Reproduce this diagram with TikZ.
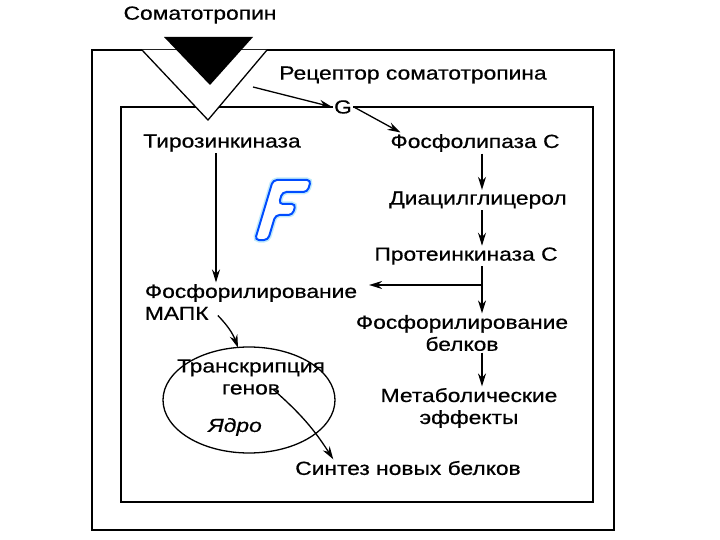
\documentclass[tikz,border=0pt]{standalone}
\usepackage{fontspec}
\setmainfont{Liberation Sans}[FakeBold=0.5]
\usetikzlibrary{arrows.meta,shapes.geometric}

\tikzset{
  lbl/.style={font=\fontsize{19}{22}\selectfont, inner sep=1pt, xscale=1.2},
  >={Stealth[length=13pt,width=8pt]},
}

\begin{document}
\begin{tikzpicture}[x=1pt,y=-1pt,line width=1.3pt]
\useasboundingbox (0,0) rectangle (720,540);

% cell and cytoplasm frames
\draw (92,50) rectangle (614,530);
\draw (121,107) rectangle (593,502);

% receptor and hormone
\fill[white] (142,50) -- (208,120) -- (267,50) -- cycle;
\draw (142,50) -- (208,120) -- (267,50);
\fill (164,37) -- (210,85) -- (253,37) -- cycle;
\coordinate (recout) at (253,87);

% logo
\draw[cyan!25,line width=5pt,rounded corners=4pt] (255,240) -- (273,180) -- (311,180) -- (307.4,192) -- (282.4,192) -- (278.8,204) -- (295.8,204) -- (292.5,215) -- (275.5,215) -- (268,240) -- cycle;
\draw[blue!70!cyan,line width=2pt,fill=white,rounded corners=4pt] (255,240) -- (273,180) -- (311,180) -- (307.4,192) -- (282.4,192) -- (278.8,204) -- (295.8,204) -- (292.5,215) -- (275.5,215) -- (268,240) -- cycle;

\node[lbl] (hormone) at (200,15) {Соматотропин};
\node[lbl] (receptor) at (413,75) {Рецептор соматотропина};
\node[lbl,fill=white] (gprot) at (343,107) {G};
\node[lbl] (tyr) at (222,143) {Тирозинкиназа};
\node[lbl] (plc) at (475,143) {Фосфолипаза С};
\node[lbl] (dag) at (478,200) {Диацилглицерол};
\node[lbl] (pkc) at (466,256) {Протеинкиназа С};
\node[lbl,align=center] (protphos) at (462,333) {Фосфорилирование\\белков};
\node[lbl,align=center] (metab) at (469,408) {Метаболические\\эффекты};
\node[lbl,align=left] (mapk) at (251,302) {Фосфорилирование\\МАПК};
\node[draw,ellipse,minimum width=172pt,minimum height=106pt,inner sep=0pt] (nucleus) at (249,400) {};
\node[lbl,align=center] (transcr) at (251,377) {Транскрипция\\генов};
\node[lbl,font=\fontsize{19}{22}\selectfont\itshape] (nucl) at (235,427) {Ядро};
\node[lbl] (synth) at (408,468) {Синтез новых белков};

\coordinate (axis) at (482,0);
\coordinate (branch) at (482,285);

\draw [->] (recout) -- (gprot.west);
\draw [->] (gprot.east) -- ([xshift=12pt]plc.north west);
\draw [->] (plc.south -| axis) -- (dag.north -| axis);
\draw [->] (dag.south -| axis) -- (pkc.north -| axis);
\draw [->] (pkc.south -| axis) -- (protphos.north -| axis);
\draw [->] (protphos.south -| axis) -- (metab.north -| axis);
\draw [->,shorten >=10pt] (branch) -- (mapk.east |- branch);
\draw [->] ([xshift=-6pt]tyr.south) -- ([xshift=-6pt]tyr.south |- mapk.north);
\draw [->] ([xshift=75pt,yshift=6pt]mapk.south west) to [bend left=12] ([xshift=-13pt,yshift=10pt]transcr.north);
\draw [->] ([xshift=22pt,yshift=7pt]transcr.south) to [bend left=8] ([xshift=40pt]synth.north west);

\end{tikzpicture}
\end{document}
